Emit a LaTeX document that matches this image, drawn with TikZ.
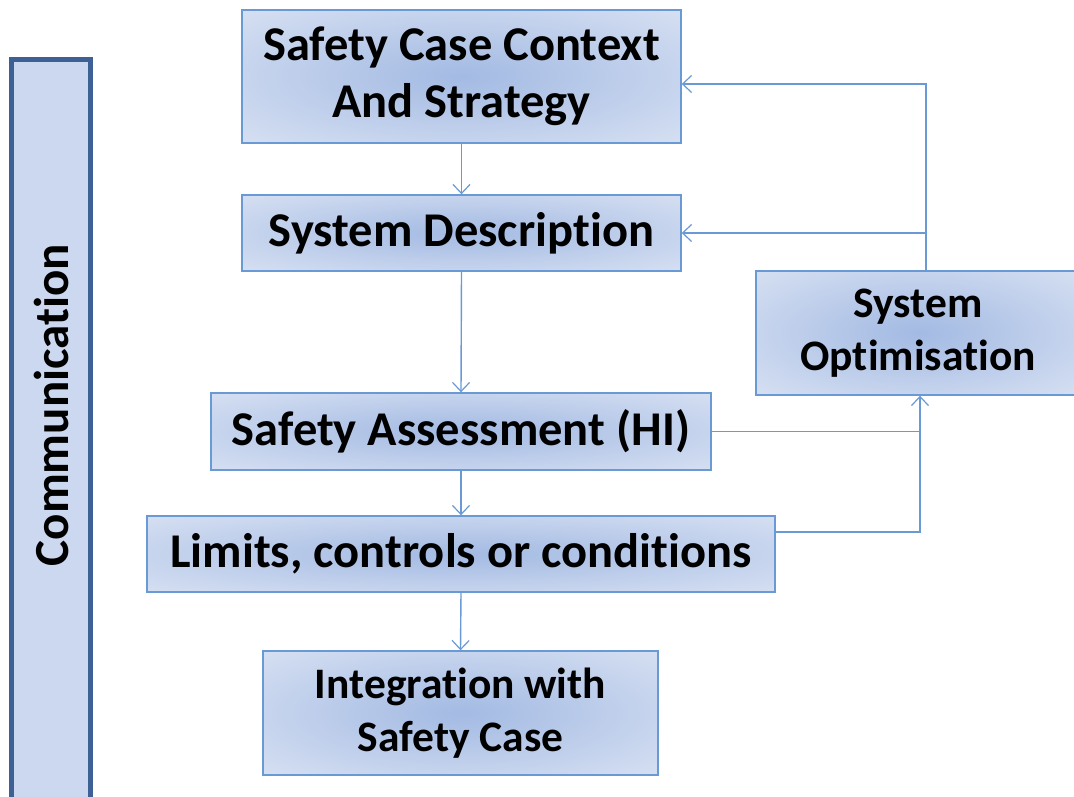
\documentclass[tikz,border=0pt]{standalone}
\usepackage{fontspec}
\setmainfont{Carlito}[Ligatures=NoCommon]
\usetikzlibrary{arrows.meta,calc}
\definecolor{edgeblue}{HTML}{6A9AD6}
\definecolor{innerblue}{HTML}{A3BAE3}
\definecolor{outerblue}{HTML}{E8EDF7}
\definecolor{barborder}{HTML}{3D6095}
\definecolor{barfill}{HTML}{CCD8EF}
\pgfdeclareradialshading{boxshade}{\pgfpoint{0bp}{0bp}}{color(0bp)=(innerblue); color(48bp)=(outerblue); color(72bp)=(outerblue)}
\tikzset{
  procbox/.style={draw=edgeblue, line width=1.4pt, shading=boxshade, align=center, inner sep=0pt},
  bigtext/.style={font=\bfseries\fontsize{48.5}{57}\selectfont},
  smalltext/.style={font=\bfseries\fontsize{43.5}{53}\selectfont},
  flow/.style={draw=edgeblue, line width=1.4pt, -{Straight Barb[length=9pt,width=17pt,line width=1.2pt]}},
  plainline/.style={draw=edgeblue, line width=1.4pt},
}
\begin{document}
\begin{tikzpicture}[x=1pt,y=-1pt]
\clip (0,0) rectangle (1074,796);
\fill[white] (0,0) rectangle (1074,796);
% communication bar
\node[draw=barborder, line width=5pt, fill=barfill, minimum width=79pt, minimum height=760pt, inner sep=0pt] (bar) at (51,439) {};
\node[rotate=90, font=\bfseries\fontsize{49}{58}\selectfont] (comm) at (51,405) {Communication};
% boxes
\node[procbox, bigtext, minimum width=439pt, minimum height=133pt] (b1) at (461.5,76.5) {Safety Case Context\\And Strategy};
\node[procbox, bigtext, minimum width=439pt, minimum height=76pt] (b2) at (461.5,233) {System Description};
\node[procbox, bigtext, minimum width=500pt, minimum height=77pt] (b3) at (461,431.5) {Safety Assessment (HI)};
\node[procbox, bigtext, minimum width=628pt, minimum height=76pt] (b4) at (461,554) {Limits, controls or conditions};
\node[procbox, smalltext, minimum width=395pt, minimum height=124pt] (b5) at (460.5,713) {Integration with\\Safety Case};
\node[procbox, smalltext, minimum width=324pt, minimum height=124pt] (b6) at (918,333) {System\\Optimisation};
% vertical flow
\draw[flow] (b1.south) -- (b2.north);
\draw[flow] (b2.south) -- (b3.north);
\draw[flow] (b3.south) -- (b4.north);
\draw[flow] (b4.south) -- (b5.north);
% feedback from optimisation
\coordinate (jtop) at (926,84);
\coordinate (jbot) at (920,532);
\draw[flow] (b6.north -| jtop) |- (b1.east |- jtop);
\draw[flow] (jtop |- b2.east) -- (b2.east);
% feedback to optimisation
\draw[plainline] (b3.east) -- (b3.east -| jbot);
\draw[flow] (b4.east |- jbot) -| (b6.south -| jbot);
\end{tikzpicture}
\end{document}
